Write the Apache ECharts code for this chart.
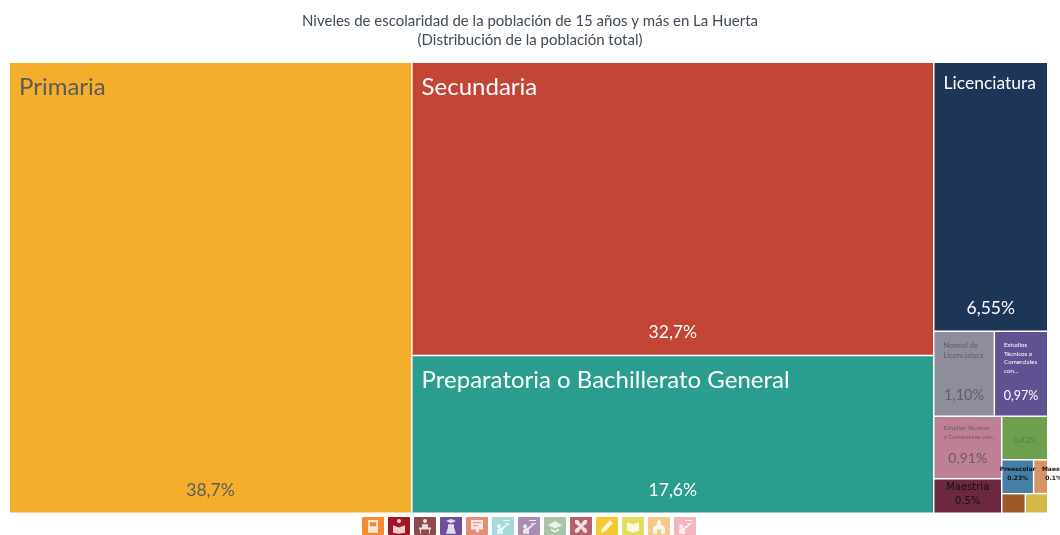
<!DOCTYPE html>
<html><head><meta charset="utf-8">
<style>html,body{margin:0;padding:0;background:#fff;overflow:hidden}#c{width:1060px;height:535px}</style>
<script src="https://cdn.jsdelivr.net/npm/echarts@6/dist/echarts.min.js"></script>
</head><body><div id="c"></div>
<script>
const titleLines = ['Niveles de escolaridad de la población de 15 años y más en La Huerta','(Distribución de la población total)'];
const names = ['Primaria','Secundaria','Preparatoria o Bachillerato General','Licenciatura','Normal de\nLicenciatura','Estudios\nTécnicos o\nComerciales\ncon...','Estudios Técnicos\no Comerciales con...','Maestria','','Preescolar','Maestria','',''];
const values = [38.8,32.7,17.6,6.55,1.10,0.97,0.91,0.5,0.43,0.23,0.102,0.099,0.094];
const pctLabels = ['38,7%','32,7%','17,6%','6,55%','1,10%','0,97%','0,91%','0.5%','0,43%','0.23%','0.1%','',''];
const colors = ['#F4AE2C','#C34536','#2A9D8F','#1D3557','#8D8D9B','#5F5192','#BD8094','#6B2840','#6D9F4E','#457FA6','#D99264','#9C5A2B','#D4B946'];
const nameSizes = [24,24,24,17.5,7.5,6.2,6,10,8,6,6,8,8];
const nameLines = [29,29,29,21,9.5,8.5,9,12,10,8,8,10,10];
const namePads = [[10,9],[10,9],[10,9],[10,9],[9,9],[9,9],[7,9],0,0,0,0,0,0];
const pctSizes = [17.5,17.5,17.5,17.5,14.5,12.5,14,10,8,6,6,8,8];
const textColors = ['#5b5b5b','#fff','#fff','#fff','#5f5f6b','#fff','#6e5a64','#111','#55803a','#111','#111','#000','#000'];
const narrow = 'Lato,"Open Sans",sans-serif';
const iconColors = ['#F58A2E','#A31621','#8E4B4F','#6F4E9A','#E08E75','#A6D9D9','#A68FB0','#A9C4A8','#B5606F','#F2C92E','#E3DD5C','#F2C98A','#F4B6BC'];
const teacher = 'M3 5a2 2 0 1 0 .01 0Z M1 10L6 8L12 4L12.5 5L7 10V14H1Z M7 1H14V2H7Z M9 4H14V5H9Z';
const iconPaths = [
 'M2 1H12V13H2Z M4 3V7H10V3Z',
 'M7 0a2 2 0 1 0 .01 0Z M1 6L7 8L13 6V13L7 14L1 13Z',
 'M7 0a2 2 0 1 0 .01 0Z M4 5H10V8H13V10H12V14H11V10H3V14H2V10H1V8H4Z',
 'M7 0L12 2L7 4L2 2Z M4 5H10V8L12 14H2L4 8Z',
 'M1 1H13V10H9V13L7.5 12L6 13V10H1Z M3 3V4H11V3Z M3 6V7H8V6Z',
 teacher, teacher,
 'M7 2L14 6L7 9L0 6Z M3 9L7 11L11 9V11L7 13L3 11Z',
 'M1 1H4L7 5L10 1H13V4L9 7L13 10V13H10L7 9L4 13H1V10L5 7L1 4Z',
 'M10 1L13 4L5 12L1 13L2 9Z',
 'M1 3L7 5L13 3V11L7 13L1 11Z',
 'M7 0L9 3V5L13 8V14H9V10H5V14H1V8L5 5V3Z',
 teacher
];
iconPaths.forEach((p,i)=>echarts.graphic.registerShape('icon'+i,echarts.graphic.extendPath(p,{})));
const dense = [7,9,10];
const fam = i => dense.includes(i) ? '"DejaVu Sans",sans-serif' : narrow;
const weight = i => (i===9||i===10) ? 'bold' : 'normal';
const namePos = i => dense.includes(i)
  ? {position:'insideTop',distance:i===7?2:5,offset:i===10?[16,0]:[0,0]}
  : {position:'insideTopLeft'};
const pctPos = i => dense.includes(i)
  ? {position:'insideTop',distance:i===7?12:10,offset:i===10?[13,0]:[0,0]}
  : {position:'insideBottom',distance:i===8?10:8};
const nameData = names.map((n,i)=>({name:n||' ',value:values[i],itemStyle:{color:colors[i]},
  label:Object.assign({show:!!n,color:textColors[i],fontSize:nameSizes[i],fontFamily:fam(i),fontWeight:weight(i),lineHeight:nameLines[i],overflow:'none',padding:namePads[i]},namePos(i))}));
const pctData = pctLabels.map((p,i)=>({name:p||' ',value:values[i],itemStyle:{color:'rgba(0,0,0,0)',borderColor:'rgba(0,0,0,0)'},
  label:Object.assign({show:!!p,color:textColors[i],fontSize:pctSizes[i],fontFamily:fam(i),fontWeight:weight(i),overflow:'none'},pctPos(i))}));
const box = {left:10,top:63,width:1037,height:449.5};
const base = Object.assign({type:'treemap',roam:false,nodeClick:false,breadcrumb:{show:false},sort:'desc',visibleMin:0,childrenVisibleMin:0,squareRatio:1.618,animation:false,silent:true},box);
const graphic = [{type:'text',left:'center',top:12,style:{text:titleLines.join('\n'),fill:'#3f4a54',font:'15px '+narrow,textAlign:'center',lineHeight:19}}];
iconColors.forEach((c,i)=>{
  const x=362+i*26;
  graphic.push({type:'rect',shape:{x:x,y:517,width:22,height:18,r:1},style:{fill:c}});
  graphic.push({type:'icon'+i,x:x+4,y:519,scaleX:1,scaleY:1.05,style:{fill:'rgba(255,255,255,0.8)'}});
});
const chart = echarts.init(document.getElementById('c'),null,{renderer:'canvas'});
chart.setOption({animation:false,graphic:graphic,series:[
 Object.assign({},base,{data:nameData,label:{overflow:'none'},levels:[{itemStyle:{gapWidth:1.5,borderWidth:0}}]}),
 Object.assign({},base,{data:pctData,label:{overflow:'none'},levels:[{itemStyle:{gapWidth:1.5,borderWidth:0,color:'rgba(0,0,0,0)'}}]})
]});
</script></body></html>
